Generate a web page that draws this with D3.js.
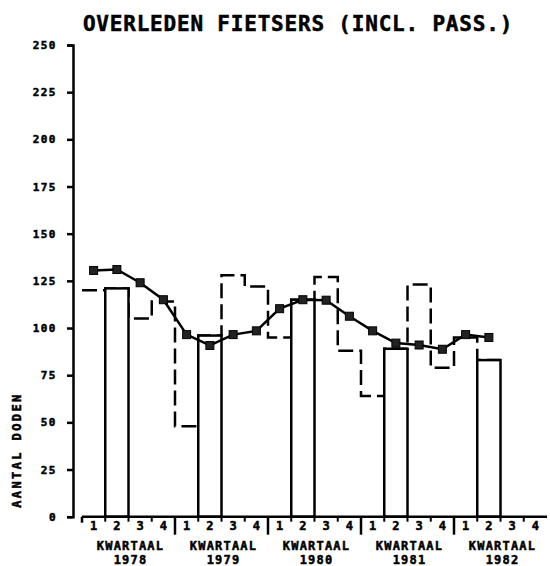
<!DOCTYPE html>
<html>
<head>
<meta charset="utf-8">
<script src="https://cdn.jsdelivr.net/npm/d3@7"></script>
<style>
  body { margin: 0; background: #fff; }
  text { font-family: "DejaVu Sans Mono", monospace; font-weight: bold; fill: #000; stroke: #000; stroke-width: 0.5px; }
</style>
</head>
<body>
<script>

let width = 550;
let height = 566;

// Data
let years = [1978, 1979, 1980, 1981, 1982];
let quarters = [1, 2, 3, 4];
// quarterly deaths (dashed steps, 2nd quarter drawn as bar)
let deaths = [
    120, 121, 105, 114,
    48, 96, 128, 122,
    95, 115, 127, 88,
    64, 89, 123, 79,
    95, 83, null, null
];
// moving average (line with markers)
let average = [
    130.5, 131, 124, 115,
    96.5, 90.75, 96.5, 98.5,
    110.25, 115, 114.75, 106.25,
    98.5, 92, 91, 88.75,
    96.5, 95, null, null
];
let yTicks = [0, 25, 50, 75, 100, 125, 150, 175, 200, 225, 250];
let title = "OVERLEDEN FIETSERS (INCL. PASS.)";
let yTitle = "AANTAL DODEN";
let quarterWord = "KWARTAAL";

let keys = [];
years.forEach(function (yr) {
    quarters.forEach(function (q) { keys.push(yr + "-" + q); });
});

let svg = d3.select("body").append("svg")
    .attr("width", width)
    .attr("height", height);

let x = d3.scaleBand()
    .domain(keys)
    .range([82, 547])
    .padding(0);

let xYear = d3.scaleBand()
    .domain(years)
    .range([82, 547])
    .padding(0);

let y = d3.scaleLinear()
    .domain([0, 250])
    .range([516.7, 45]);

// Title
svg.append("text")
    .attr("x", 298)
    .attr("y", 31)
    .attr("text-anchor", "middle")
    .style("font-size", "21px")
    .style("letter-spacing", "0.8px")
    .text(title);

// Y axis
let yAxis = svg.append("g")
    .attr("transform", "translate(73,0)")
    .call(d3.axisLeft(y).tickValues(yTicks).tickSize(6).tickPadding(10));
yAxis.selectAll("path, line").attr("stroke", "#000").attr("stroke-width", 2.5);
yAxis.selectAll("text")
    .style("font-size", "11px")
    .style("letter-spacing", "1.5px")
    .style("font-family", "'DejaVu Sans Mono', monospace")
    .style("font-weight", "bold")
    .attr("stroke", "#000")
    .attr("stroke-width", 0.6);

svg.append("text")
    .attr("transform", "translate(21,450) rotate(-90)")
    .attr("text-anchor", "middle")
    .style("font-size", "12px")
    .style("letter-spacing", "2.4px")
    .text(yTitle);

// Dashed step line for quarterly values
let steps = [];
keys.forEach(function (k, i) {
    if (deaths[i] != null) {
        steps.push([x(k), deaths[i]]);
        steps.push([x(k) + x.bandwidth(), deaths[i]]);
    }
});
svg.append("path")
    .datum(steps)
    .attr("fill", "none")
    .attr("stroke", "#000")
    .attr("stroke-width", 2.5)
    .attr("stroke-dasharray", "15,6")
    .attr("d", d3.line()
        .x(function (d) { return d[0]; })
        .y(function (d) { return y(d[1]); }));

// Bars for the 2nd quarter
let barData = keys.map(function (k, i) { return { key: k, value: deaths[i] }; })
    .filter(function (d) { return d.key.endsWith("-2"); });
svg.selectAll("rect.bar")
    .data(barData)
    .enter()
    .append("rect")
    .attr("class", "bar")
    .attr("x", function (d) { return x(d.key); })
    .attr("y", function (d) { return y(d.value); })
    .attr("width", x.bandwidth())
    .attr("height", function (d) { return y(0) - y(d.value); })
    .attr("fill", "#fff")
    .attr("stroke", "#000")
    .attr("stroke-width", 2.5);

// Moving average line with markers
let avgData = keys.map(function (k, i) { return { key: k, value: average[i] }; })
    .filter(function (d) { return d.value != null; });
svg.append("path")
    .datum(avgData)
    .attr("fill", "none")
    .attr("stroke", "#000")
    .attr("stroke-width", 2.5)
    .attr("d", d3.line()
        .x(function (d) { return x(d.key) + x.bandwidth() / 2; })
        .y(function (d) { return y(d.value); }));
svg.selectAll("rect.marker")
    .data(avgData)
    .enter()
    .append("rect")
    .attr("class", "marker")
    .attr("x", function (d) { return x(d.key) + x.bandwidth() / 2 - 4; })
    .attr("y", function (d) { return y(d.value) - 4; })
    .attr("width", 8)
    .attr("height", 8)
    .attr("fill", "#222")
    .attr("stroke", "#000")
    .attr("stroke-width", 1);

// X axis
let xAxis = svg.append("g");
xAxis.append("line")
    .attr("x1", 82).attr("x2", 547)
    .attr("y1", y(0)).attr("y2", y(0))
    .attr("stroke", "#000").attr("stroke-width", 2.5);
xAxis.append("line")
    .attr("x1", 82).attr("x2", 82)
    .attr("y1", y(0)).attr("y2", y(0) + 6)
    .attr("stroke", "#000").attr("stroke-width", 2.5);
// small ticks between quarters
xAxis.selectAll("line.qtick")
    .data(keys.filter(function (k) { return !k.endsWith("-1"); }))
    .enter()
    .append("line")
    .attr("class", "qtick")
    .attr("x1", function (k) { return x(k); })
    .attr("x2", function (k) { return x(k); })
    .attr("y1", y(0)).attr("y2", y(0) + 5)
    .attr("stroke", "#000").attr("stroke-width", 2);
// year separators
xAxis.selectAll("line.ytick")
    .data(years.slice(1))
    .enter()
    .append("line")
    .attr("class", "ytick")
    .attr("x1", function (yr) { return xYear(yr); })
    .attr("x2", function (yr) { return xYear(yr); })
    .attr("y1", y(0)).attr("y2", y(0) + 18)
    .attr("stroke", "#000").attr("stroke-width", 2.5);
// quarter numbers
xAxis.selectAll("text.qlabel")
    .data(keys)
    .enter()
    .append("text")
    .attr("class", "qlabel")
    .attr("x", function (k) { return x(k) + x.bandwidth() / 2; })
    .attr("y", 530)
    .attr("text-anchor", "middle")
    .style("font-size", "12px")
    .text(function (k) { return k.split("-")[1]; });
// year labels
xAxis.selectAll("text.ylabel1")
    .data(years)
    .enter()
    .append("text")
    .attr("class", "ylabel1")
    .attr("x", function (yr) { return xYear(yr) + xYear.bandwidth() / 2 + 2; })
    .attr("y", 550)
    .attr("text-anchor", "middle")
    .style("font-size", "12px")
    .style("letter-spacing", "1.2px")
    .text(quarterWord);
xAxis.selectAll("text.ylabel2")
    .data(years)
    .enter()
    .append("text")
    .attr("class", "ylabel2")
    .attr("x", function (yr) { return xYear(yr) + xYear.bandwidth() / 2 + 2; })
    .attr("y", 564)
    .attr("text-anchor", "middle")
    .style("font-size", "12px")
    .style("letter-spacing", "1.2px")
    .text(function (yr) { return yr; });

</script>
</body>
</html>
